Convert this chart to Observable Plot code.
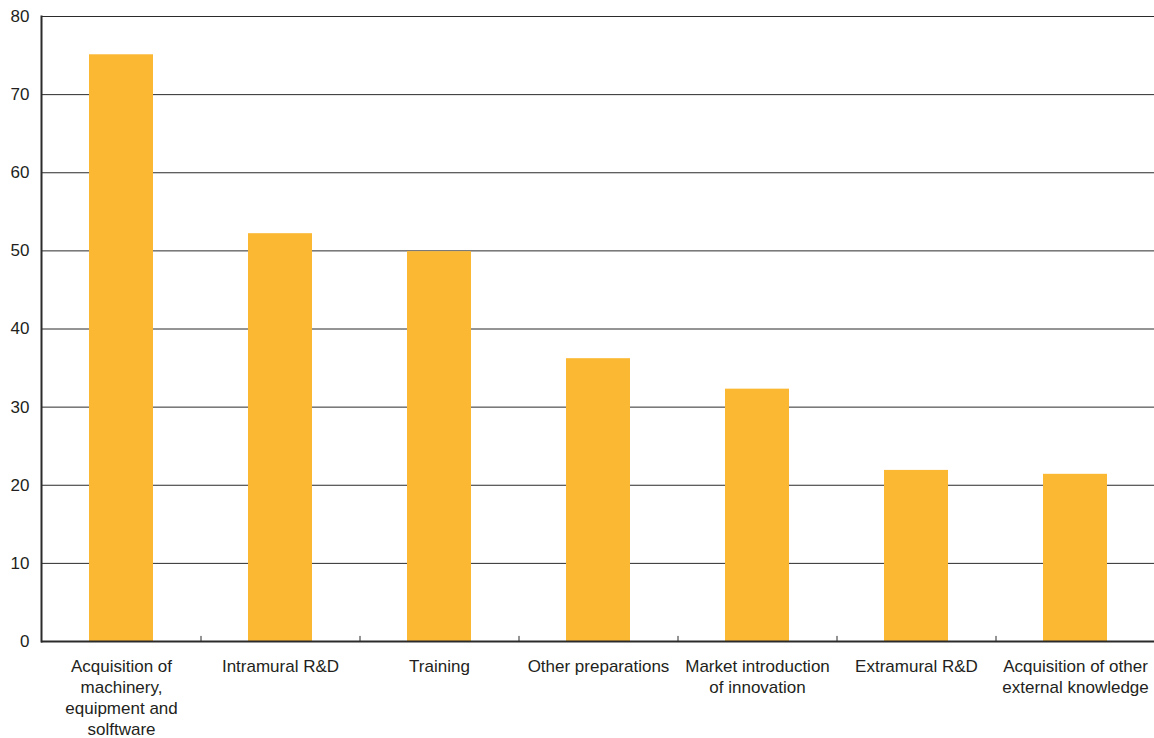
<!DOCTYPE html>
<html>
<head>
<meta charset="utf-8">
<script src="https://cdn.jsdelivr.net/npm/d3@7"></script>
<script src="https://cdn.jsdelivr.net/npm/@observablehq/plot@0.6"></script>
<style>
  html, body { margin: 0; padding: 0; background: #fff; }
  #chart svg { display: block; }
</style>
</head>
<body>
<div id="chart"></div>
<script>
// Share of innovating enterprises by type of innovation activity (%)
const categories = [
  "Acquisition of\nmachinery,\nequipment and\nsolftware",
  "Intramural R&D",
  "Training",
  "Other preparations",
  "Market introduction\nof innovation",
  "Extramural R&D",
  "Acquisition of other\nexternal knowledge"
];
const values = [75.1, 52.2, 49.9, 36.2, 32.3, 21.9, 21.4];
const yTicks = [0, 10, 20, 30, 40, 50, 60, 70, 80];
const gridTicks = [10, 20, 30, 40, 50, 60, 70, 80];

const data = categories.map((c, i) => ({category: c, value: values[i]}));
// boundaries between neighbouring categories get a small tick on the baseline
const dividers = categories.slice(0, -1);

const W = 1154, H = 738;
const marginLeft = 41, marginRight = 0;
const step = (W - marginLeft - marginRight) / categories.length;

const textColor = "#231f20";

const chart = Plot.plot({
  width: W,
  height: H,
  marginLeft,
  marginRight,
  marginTop: 16,
  marginBottom: 97,
  style: {fontFamily: "Liberation Sans, Arial, sans-serif", fontSize: "17px", color: textColor, background: "#fff"},
  x: {domain: categories, paddingInner: 0.6, paddingOuter: 0.3, label: null},
  y: {domain: [0, 80], label: null},
  marks: [
    Plot.ruleY(gridTicks, {stroke: "#2b2b2b", strokeWidth: 1}),
    Plot.barY(data, {x: "category", y: "value", fill: "#fbb833"}),
    Plot.ruleX(dividers, {x: d => d, dx: step / 2, y1: 0, y2: 0.65, stroke: "#2b2b2b", strokeWidth: 1}),
    Plot.ruleY([0], {stroke: "#2b2b2b", strokeWidth: 2}),
    Plot.frame({anchor: "left", stroke: "#2b2b2b", strokeWidth: 2}),
    Plot.axisY({ticks: yTicks, tickSize: 0, tickPadding: 12, fontSize: 17, fill: textColor, label: null}),
    Plot.axisX({tickSize: 0, tickPadding: 15, fontSize: 17, fill: textColor, lineHeight: 1.25, label: null})
  ]
});

document.getElementById("chart").appendChild(chart);
</script>
</body>
</html>
